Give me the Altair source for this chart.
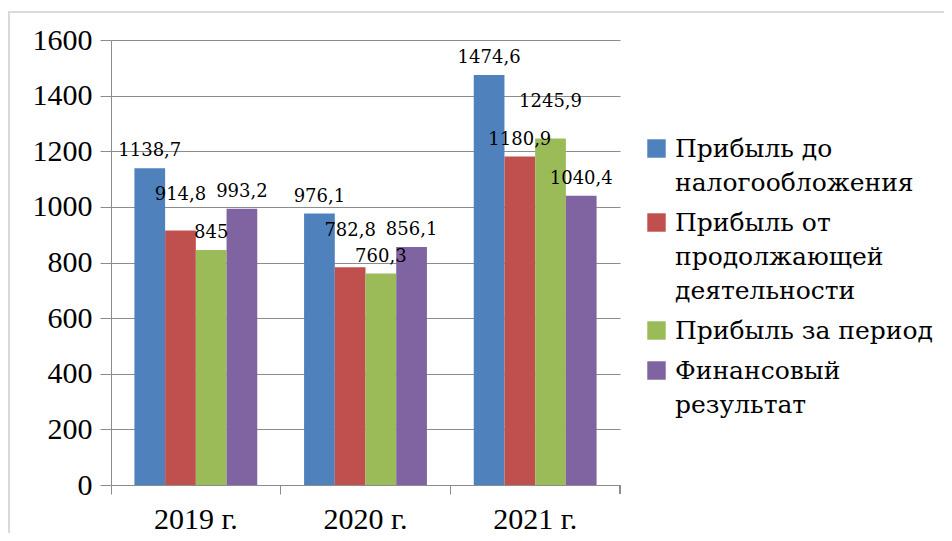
import altair as alt
import pandas as pd

years = ["2019 г.", "2020 г.", "2021 г."]
series = [
    "Прибыль до\nналогообложения",
    "Прибыль от\nпродолжающей\nдеятельности",
    "Прибыль за период",
    "Финансовый\nрезультат",
]
pre_tax = [1138.7, 976.1, 1474.6]
continuing = [914.8, 782.8, 1180.9]
period = [845.0, 760.3, 1245.9]
financial = [993.2, 856.1, 1040.4]
colors = ["#4F81BD", "#C0504D", "#9BBB59", "#8064A2"]

FONT = "Liberation Serif"
CYR_FONT = "DejaVu Serif"
W, H = 509, 445
Y_MAX = 1600
GRID = "#8C8C8C"

# Labels of neighbouring bars whose tops are too close would collide:
# the taller bar's label is lifted (as in the reference).
px_per_unit = H / Y_MAX
close_px = 22
lift_px = 19
all_vals = [pre_tax, continuing, period, financial]
rows = []
for si, (s, vals) in enumerate(zip(series, all_vals)):
    for yi, (y, v) in enumerate(zip(years, vals)):
        lift = 0.0
        for nj in (si - 1, si + 1):
            if 0 <= nj < len(series):
                other = all_vals[nj][yi]
                if abs(v - other) * px_per_unit < close_px and v > other:
                    lift = lift_px / px_per_unit
        lbl = (f"{v:.1f}".rstrip("0").rstrip(".")).replace(".", ",")
        rows.append({"year": y, "series": s, "value": v,
                     "label_pos": v + lift, "label": lbl})
df = pd.DataFrame(rows)

xscale = alt.Scale(paddingInner=0.276, paddingOuter=0.138)
x_axis = alt.Axis(labelAngle=0, labelFont=FONT, labelFontSize=30,
                  labelColor="black", labelPadding=10,
                  domainColor=GRID, tickColor=GRID, tickSize=9,
                  bandPosition=-0.1906, grid=False)
xo_enc = alt.XOffset("series:N", sort=series,
                     scale=alt.Scale(paddingInner=0, paddingOuter=0))
y_axis = alt.Axis(values=list(range(0, 1601, 200)), format="d",
                  labelFont=FONT, labelFontSize=30, labelColor="black",
                  labelPadding=8, tickSize=11, tickColor=GRID,
                  domainColor=GRID, gridColor=GRID, grid=True)
yscale = alt.Scale(domain=[0, Y_MAX], nice=False)

base = alt.Chart(df)

bars = base.mark_bar().encode(
    x=alt.X("year:N", sort=years, title=None, scale=xscale, axis=x_axis),
    xOffset=xo_enc,
    y=alt.Y("value:Q", title=None, scale=yscale, axis=y_axis),
    color=alt.Color("series:N", sort=series,
                    scale=alt.Scale(domain=series, range=colors),
                    legend=alt.Legend(title=None, orient="none", legendX=533,
                                      legendY=96, symbolType="square",
                                      symbolSize=340, symbolStrokeWidth=0,
                                      labelFont=CYR_FONT, labelFontSize=25,
                                      labelColor="black", labelLimit=0,
                                      labelBaseline="middle", labelOffset=6,
                                      rowPadding=14)),
)

labels = base.mark_text(font=CYR_FONT, fontSize=18, color="black", dy=-17,
                        baseline="middle").encode(
    x=alt.X("year:N", sort=years, title=None, scale=xscale, axis=x_axis),
    xOffset=xo_enc,
    y=alt.Y("label_pos:Q", scale=yscale, axis=y_axis, title=None),
    text="label:N")

last_tick = alt.Chart(df).mark_rule(color=GRID).encode(
    x=alt.value(W), y=alt.value(H), y2=alt.value(H + 9))

frame = alt.Chart(df).mark_rect(fill=None, stroke="#D9D9D9", strokeWidth=2).encode(
    x=alt.value(-102), x2=alt.value(900), y=alt.value(-28), y2=alt.value(560))

chart = alt.layer(frame, bars, labels, last_tick).properties(
    width=W, height=H,
    autosize=alt.AutoSizeParams(type="none"),
    padding={"left": 103, "top": 32, "right": 324, "bottom": 48},
).configure(
    background="white",
    style={"guide-label": {"lineHeight": 34, "lineBreak": "\n"}},
).configure_view(stroke=None)

chart.save("out.html", embed_options={"renderer": "svg", "actions": False})
